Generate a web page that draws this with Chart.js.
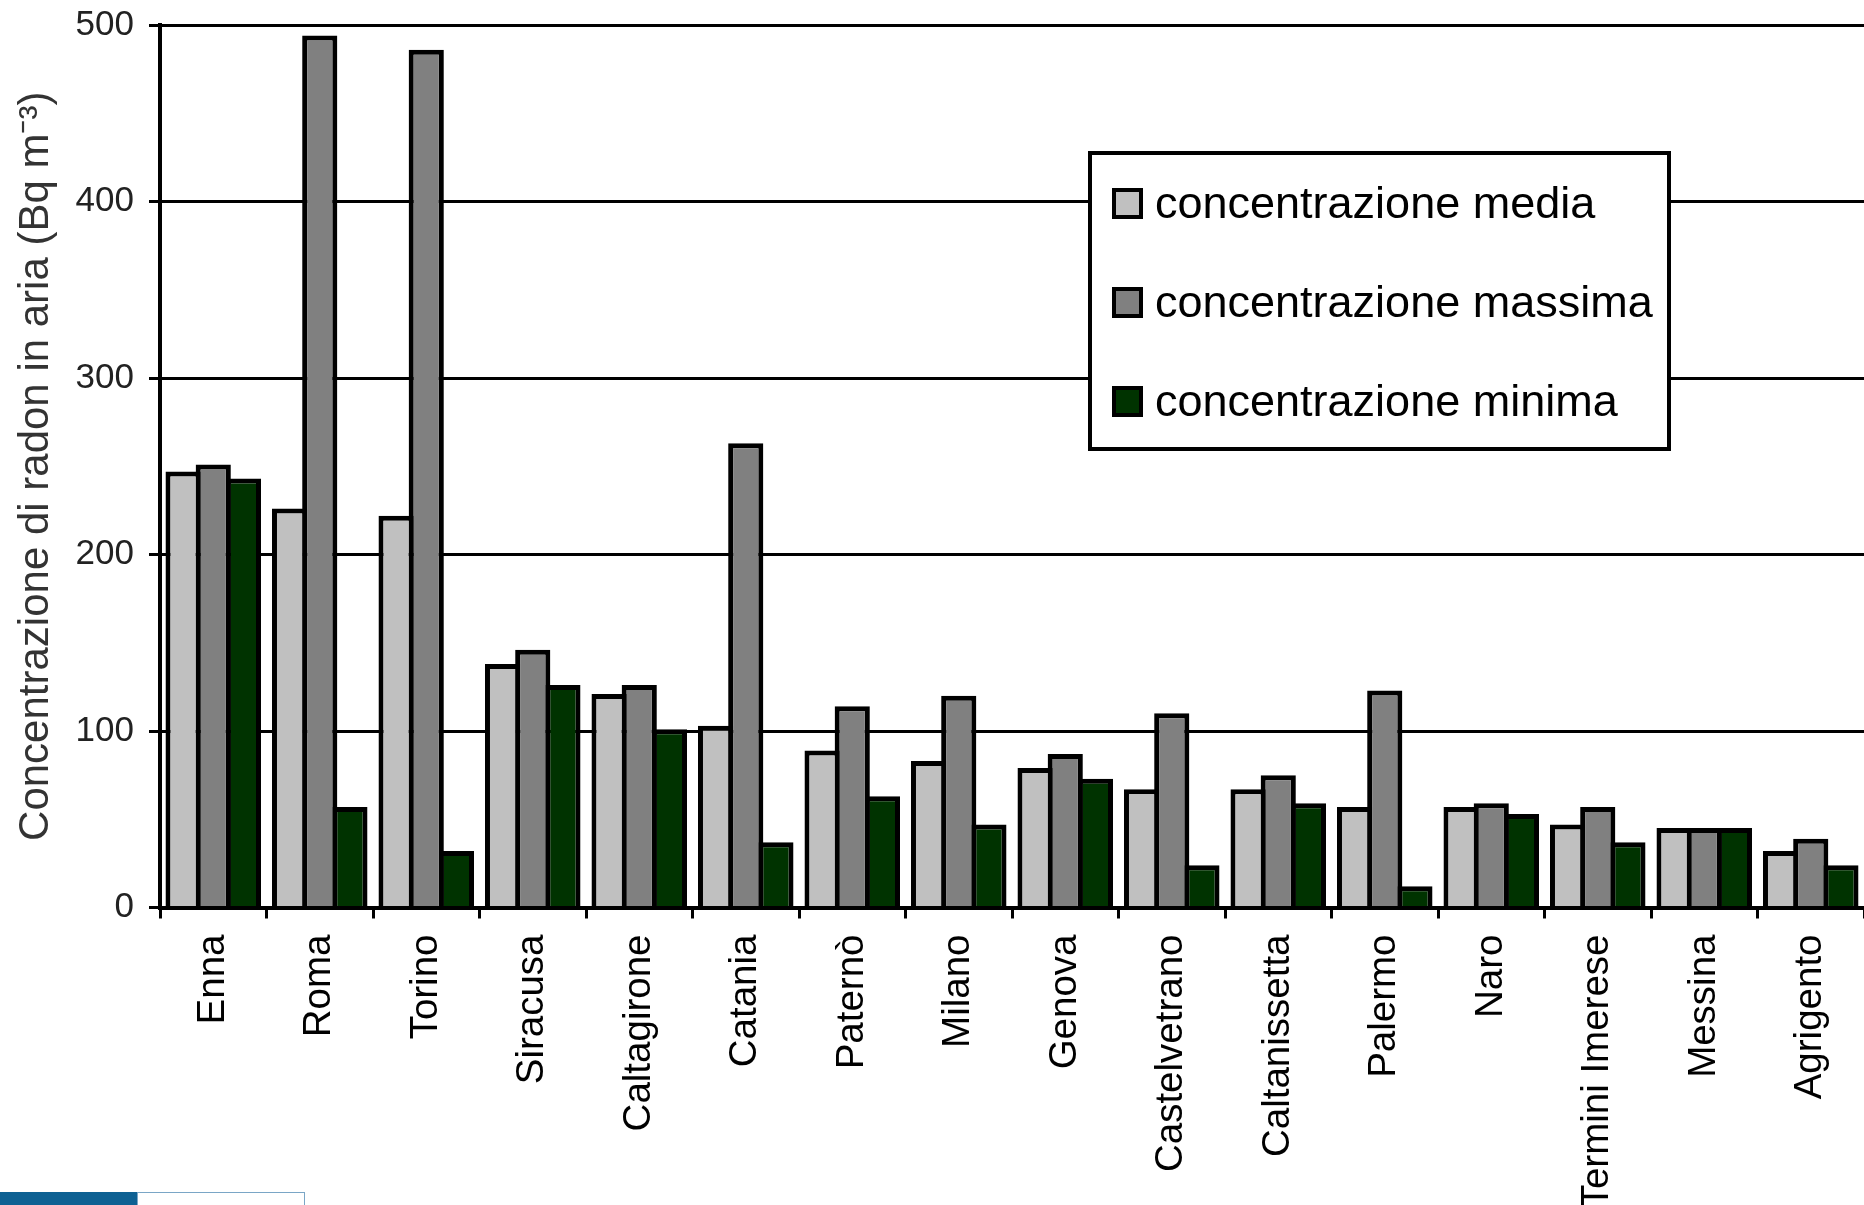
<!DOCTYPE html>
<html><head><meta charset="utf-8">
<script src="https://cdn.jsdelivr.net/npm/chart.js@4.4.1/dist/chart.umd.min.js"></script>
<style>
html,body{margin:0;padding:0;background:#fff;overflow:hidden}
#wrap{position:relative;width:1864px;height:1205px}
canvas{display:block}
.blue{position:absolute;left:0;top:1192px;width:137px;height:13px;background:#0e6193}
.tab{position:absolute;left:137px;top:1192px;width:168px;height:13px;border:1px solid #7aa6c6;border-bottom:none;box-sizing:border-box;background:#fff}
</style></head>
<body><div id="wrap"><canvas id="c" width="1864" height="1205"></canvas><div class="blue"></div><div class="tab"></div></div>
<script>
const categories = ['Enna','Roma','Torino','Siracusa','Caltagirone','Catania','Paternò','Milano','Genova','Castelvetrano','Caltanissetta','Palermo','Naro','Termini Imerese','Messina','Agrigento'];
const mediaValues   = [247, 226, 222, 138, 121, 103, 89, 83, 79, 67, 67, 57, 57, 47, 45, 32];
const massimaValues = [251, 494, 486, 146, 126, 263, 114, 120, 87, 110, 75, 123, 59, 57, 45, 39];
const minimaValues  = [243, 57, 32, 126, 101, 37, 63, 47, 73, 24, 59, 12, 53, 37, 45, 24];
const seriesLabels = ['concentrazione media', 'concentrazione massima', 'concentrazione minima'];
const seriesColors = ['#C0C0C0', '#808080', '#003300'];
const yTickValues = [0, 100, 200, 300, 400, 500];
const yAxisTitle = 'Concentrazione di radon in aria (Bq m\u207B\u00B3)';

const FONT = '"Liberation Sans", Arial, sans-serif';

const boxLegend = {
  id: 'boxLegend',
  afterDraw(chart) {
    const ctx = chart.ctx;
    ctx.save();
    ctx.fillStyle = '#fff';
    ctx.fillRect(1088, 151, 583, 300);
    ctx.lineWidth = 4;
    ctx.strokeStyle = '#000';
    ctx.strokeRect(1090, 153, 579, 296);
    ctx.font = '45px ' + FONT;
    ctx.textBaseline = 'alphabetic';
    ctx.textAlign = 'left';
    chart.data.datasets.forEach((ds, i) => {
      const y0 = 188 + i * 99;
      ctx.fillStyle = ds.backgroundColor;
      ctx.fillRect(1114, y0 + 2, 27, 27);
      ctx.lineWidth = 4;
      ctx.strokeRect(1114, y0 + 2, 27, 27);
      ctx.fillStyle = '#000';
      ctx.fillText(ds.label, 1155, 218 + i * 99);
    });
    ctx.restore();
  }
};

const datasets = [mediaValues, massimaValues, minimaValues].map((vals, i) => ({
  label: seriesLabels[i],
  data: vals,
  backgroundColor: seriesColors[i],
  borderColor: '#000',
  borderWidth: 5,
  inflateAmount: 0,
  categoryPercentage: 0.85,
  barPercentage: 1.166
}));

new Chart(document.getElementById('c'), {
  type: 'bar',
  data: { labels: categories, datasets },
  options: {
    responsive: false,
    animation: false,
    devicePixelRatio: 1,
    layout: { padding: { top: 25, right: 0, bottom: 0, left: 0 } },
    plugins: { legend: { display: false }, tooltip: { enabled: false } },
    scales: {
      x: {
        offset: true,
        grid: { display: true, drawOnChartArea: false, drawTicks: true, tickLength: 11, color: '#000', lineWidth: 3 },
        border: { display: true, color: '#000', width: 4 },
        ticks: { autoSkip: false, minRotation: 90, maxRotation: 90, padding: 16, color: '#000', font: { family: FONT, size: 38.5 } },
        afterFit(scale) { scale.height = 297.5; scale.paddingLeft = 0; scale.paddingRight = 0; }
      },
      y: {
        min: 0, max: 500,
        afterBuildTicks(scale) { scale.ticks = yTickValues.map(v => ({ value: v })); },
        grid: { color: '#000', lineWidth: 3, tickLength: 11, drawTicks: true },
        border: { display: true, color: '#000', width: 4 },
        ticks: { padding: 15, color: '#222', font: { family: FONT, size: 35 } },
        title: { display: true, text: yAxisTitle, color: '#333', font: { family: FONT, size: 42 }, padding: { top: 11, bottom: 0 } },
        afterFit(scale) { scale.width = 160; scale.paddingTop = 0; scale.paddingBottom = 0; }
      }
    }
  },
  plugins: [boxLegend]
});
</script>
</body></html>
